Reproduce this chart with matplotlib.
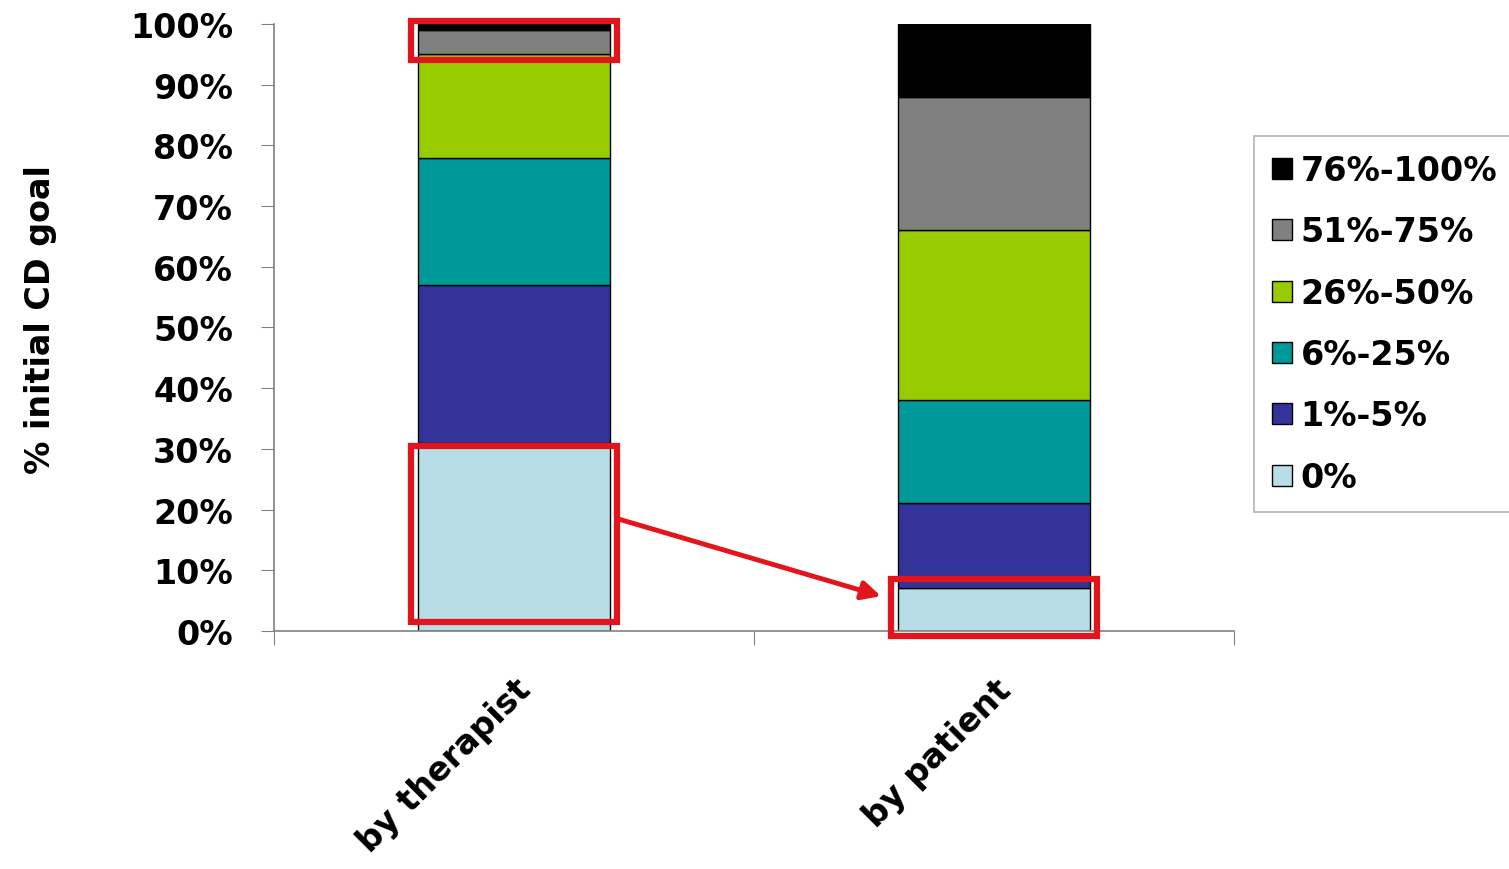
import numpy as np
import matplotlib.pyplot as plt
from matplotlib.patches import Rectangle

plt.rcParams['font.family'] = ['DejaVu Sans']
plt.rcParams['font.weight'] = 'bold'

categories = ['by therapist', 'by patient']
bands = ['0%', '1%-5%', '6%-25%', '26%-50%', '51%-75%', '76%-100%']
colors = ['#B7DDE6', '#333399', '#009999', '#99CC00', '#808080', '#000000']

# percent of patients in each band, bottom to top
therapist = [31, 26, 21, 17, 4, 1]
patient = [7, 14, 17, 28, 22, 12]

values = np.array([therapist, patient]).T / 100.0

fig = plt.figure(figsize=(15.09, 8.70), dpi=100)
ax = fig.add_axes([0.1816, 0.2736, 0.6362, 0.6977])

fs = 24

x = np.arange(len(categories))
bottom = np.zeros(len(categories))
handles = []
for i, band in enumerate(bands):
    h = ax.bar(x, values[i], 0.4, bottom=bottom, color=colors[i],
               edgecolor='black', linewidth=1, label=band)
    handles.append(h)
    bottom += values[i]

ax.set_xlim(-0.5, 1.5)
ax.set_ylim(0, 1)
yt = np.arange(0, 1.01, 0.1)
ax.set_yticks(yt)
ax.set_yticklabels([f'{int(round(v * 100))}%' for v in yt],
                   fontsize=fs, fontweight='bold')
ax.set_xticks([-0.5, 0.5, 1.5])
ax.set_xticklabels([])
ax.set_xticks(x, minor=True)
ax.set_xticklabels(categories, minor=True, rotation=45, ha='right',
                   rotation_mode='anchor', fontsize=fs, fontweight='bold')
ax.tick_params(axis='x', which='minor', length=0, pad=30)
ax.tick_params(axis='x', which='major', length=10, color='#808080', direction='out')
ax.tick_params(axis='y', length=9.5, color='#808080', pad=20)
for s in ['top', 'right']:
    ax.spines[s].set_visible(False)
for s in ['left', 'bottom']:
    ax.spines[s].set_color('#808080')
    ax.spines[s].set_linewidth(1.2)

ax.set_ylabel('% initial CD goal', fontsize=fs, fontweight='bold')
ax.yaxis.set_label_coords(-0.226, 0.514)

# red highlight boxes and arrow
red = '#E3141B'
boxes = [(0 - 0.215, 0.94, 0.43, 0.065),
         (0 - 0.215, 0.015, 0.43, 0.29),
         (1 - 0.215, -0.008, 0.43, 0.094)]
for bx, by, bw, bh in boxes:
    ax.add_patch(Rectangle((bx, by), bw, bh, fill=False, edgecolor=red,
                           linewidth=4.5, clip_on=False, zorder=5))
ax.annotate('', xy=(0.77, 0.056), xytext=(0.215, 0.185),
            arrowprops=dict(arrowstyle='-|>', color=red, lw=3.5,
                            mutation_scale=28), zorder=6)

leg = ax.legend(handles[::-1], bands[::-1], loc='center left',
                bbox_to_anchor=(1254 / 1509, 1 - 325 / 870),
                bbox_transform=fig.transFigure, fontsize=fs,
                frameon=True, fancybox=False, edgecolor='#A0A0A0',
                handlelength=0.6, handleheight=0.6, handletextpad=0.25,
                labelspacing=0.85, borderpad=0.55, borderaxespad=0)
leg.get_frame().set_linewidth(1.2)
for t in leg.get_texts():
    t.set_fontweight('bold')

fig.savefig('out.png', dpi=100)
